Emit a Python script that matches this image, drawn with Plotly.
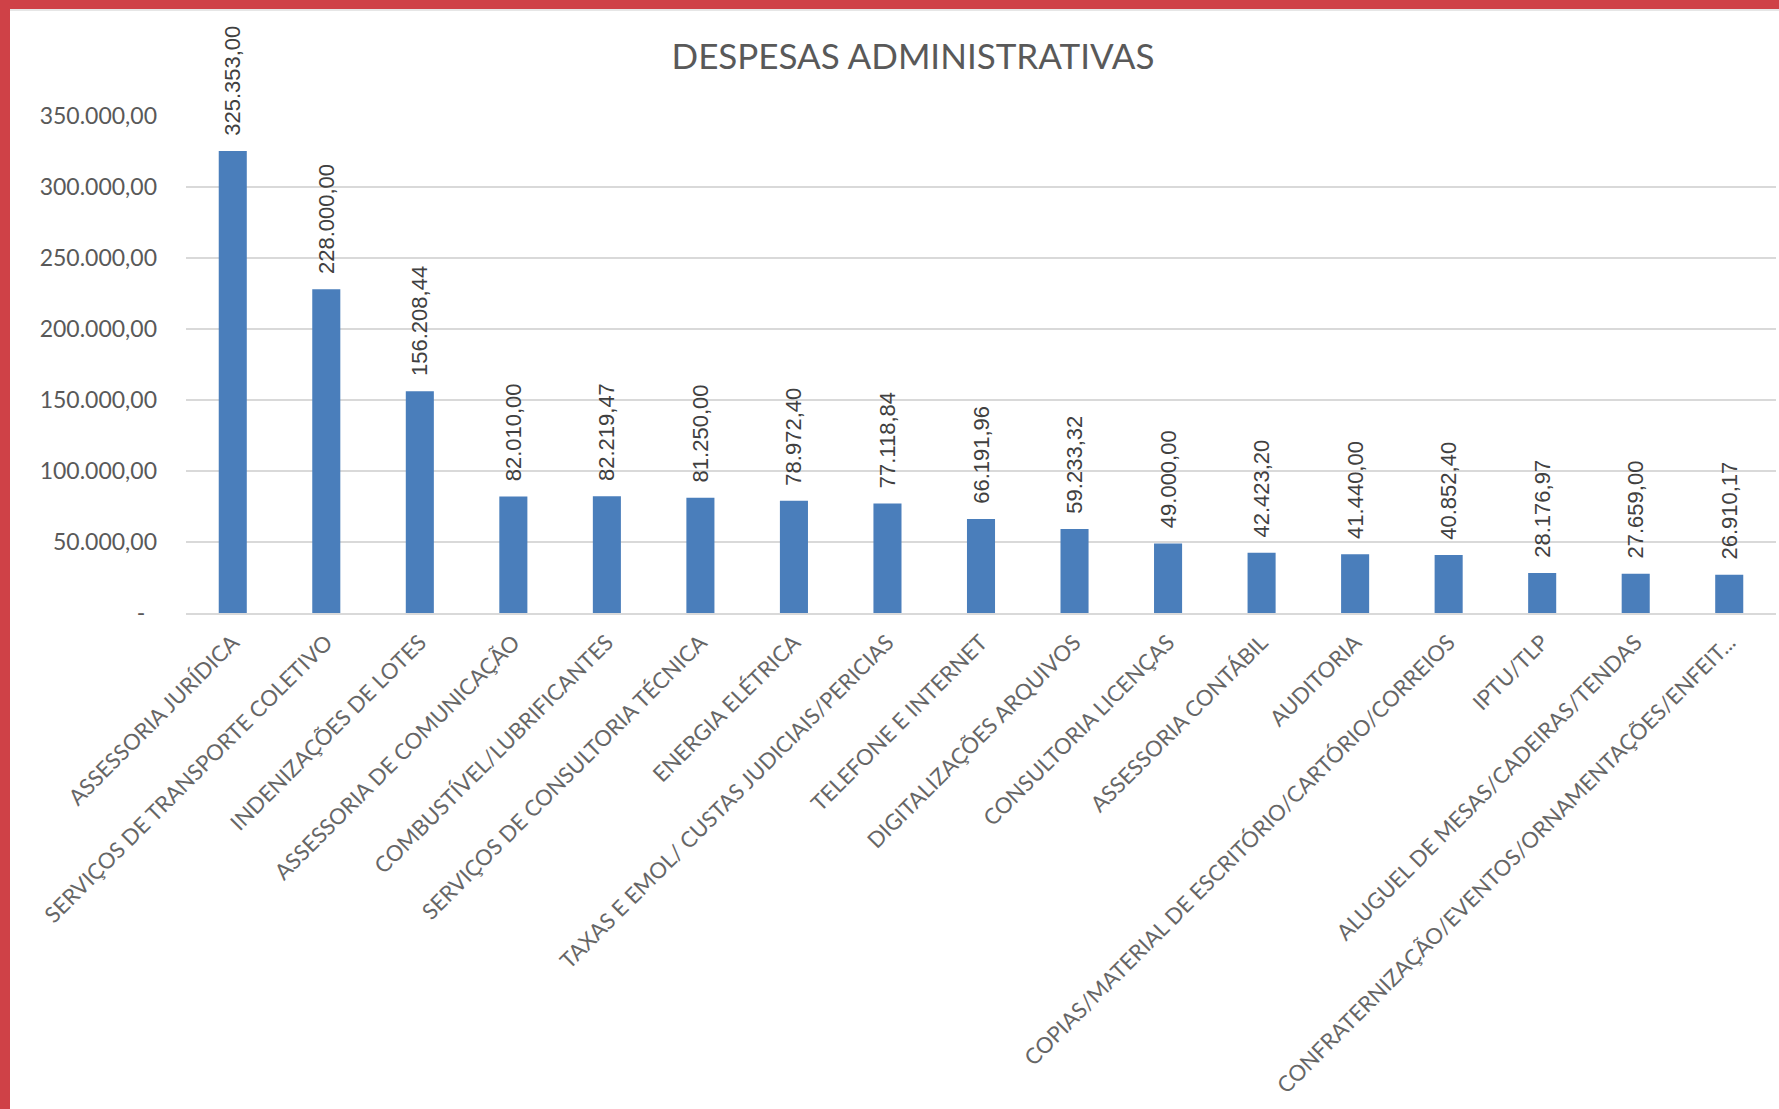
"""Bar chart: despesas administrativas."""

import plotly.graph_objects as go

# Data
categorias = [
    'ASSESSORIA JURÍDICA',
    'SERVIÇOS DE TRANSPORTE COLETIVO',
    'INDENIZAÇÕES DE LOTES',
    'ASSESSORIA DE COMUNICAÇÃO',
    'COMBUSTÍVEL/LUBRIFICANTES',
    'SERVIÇOS DE CONSULTORIA TÉCNICA',
    'ENERGIA ELÉTRICA',
    'TAXAS E EMOL/ CUSTAS JUDICIAIS/PERICIAS',
    'TELEFONE E INTERNET',
    'DIGITALIZAÇÕES ARQUIVOS',
    'CONSULTORIA LICENÇAS',
    'ASSESSORIA CONTÁBIL',
    'AUDITORIA',
    'COPIAS/MATERIAL DE ESCRITÓRIO/CARTÓRIO/CORREIOS',
    'IPTU/TLP',
    'ALUGUEL DE MESAS/CADEIRAS/TENDAS',
    'CONFRATERNIZAÇÃO/EVENTOS/ORNAMENTAÇÕES/ENFEIT...',
]
valores = [
    325353.00, 228000.00, 156208.44, 82010.00, 82219.47, 81250.00,
    78972.40, 77118.84, 66191.96, 59233.32, 49000.00, 42423.20,
    41440.00, 40852.40, 28176.97, 27659.00, 26910.17,
]
y_tickvals = [0, 50000, 100000, 150000, 200000, 250000, 300000, 350000]
y_ticktext = ['-\u00a0\u00a0', '50.000,00', '100.000,00', '150.000,00',
              '200.000,00', '250.000,00', '300.000,00', '350.000,00']

# Page geometry (pixels)
W, H = 1779, 1109
M_L, M_R, M_T, M_B = 186, 3, 116, 496
PLOT_W = W - M_L - M_R
PLOT_H = H - M_T - M_B

BAR_COLOR = '#4a7ebb'
TEXT_COLOR = '#595959'
GRID_COLOR = '#d9d9d9'
BORDER_RED = '#cf4147'


def px_x(p):
    return (p - M_L) / PLOT_W


def px_y(r):
    return (H - M_B - r) / PLOT_H


fig = go.Figure()
fig.add_trace(go.Bar(
    x=categorias,
    y=valores,
    marker=dict(color=BAR_COLOR, line=dict(width=0)),
    # leading spaces push the rotated label a little further off the bar
    texttemplate='\u00a0\u00a0%{y:,.2f}',
    textposition='outside',
    textangle=-90,
    constraintext='none',
    cliponaxis=False,
    textfont=dict(family='Liberation Sans, Arial', size=22, color='#404040'),
    hoverinfo='x+y',
))

# red frame on the left and top, with a faint shadow line
shapes = [
    dict(type='rect', xref='paper', yref='paper',
         x0=px_x(0), x1=px_x(10), y0=px_y(H), y1=px_y(0),
         fillcolor=BORDER_RED, line=dict(width=0), layer='above'),
    dict(type='rect', xref='paper', yref='paper',
         x0=px_x(0), x1=px_x(W), y0=px_y(9), y1=px_y(0),
         fillcolor=BORDER_RED, line=dict(width=0), layer='above'),
    dict(type='line', xref='paper', yref='paper',
         x0=px_x(10), x1=px_x(W), y0=px_y(10), y1=px_y(10),
         line=dict(color='#e6e6e6', width=2)),
]

fig.update_layout(
    width=W, height=H,
    margin=dict(l=M_L, r=M_R, t=M_T, b=M_B, autoexpand=False),
    paper_bgcolor='white',
    plot_bgcolor='white',
    separators=',.',
    showlegend=False,
    bargap=0.70,
    shapes=shapes,
    font=dict(family='Lato, Open Sans, sans-serif', color=TEXT_COLOR),
    title=dict(
        text='DESPESAS ADMINISTRATIVAS',
        xref='container', yref='container',
        x=913 / W, y=1 - 57 / H,
        xanchor='center', yanchor='middle',
        font=dict(family='Lato, Open Sans, sans-serif', size=35, color=TEXT_COLOR),
    ),
)

fig.update_xaxes(
    tickangle=-45,
    tickfont=dict(size=22, color='#666666'),
    showline=True, linecolor=GRID_COLOR, linewidth=2,
    showgrid=False,
    ticks='outside', ticklen=6, tickcolor='rgba(0,0,0,0)',
    automargin=False,
)
fig.update_yaxes(
    range=[0, 350000],
    tickvals=y_tickvals,
    ticktext=y_ticktext,
    tickfont=dict(size=23, color=TEXT_COLOR),
    showgrid=True, gridcolor=GRID_COLOR, gridwidth=1.5,
    zeroline=False,
    showline=False,
    ticklabelstandoff=28,
    automargin=False,
)

# drop the browser's default body margin so the figure sits at the page corner
fig.write_html("out.html", config={'displayModeBar': False},
               post_script="document.body.style.margin = '0';")
